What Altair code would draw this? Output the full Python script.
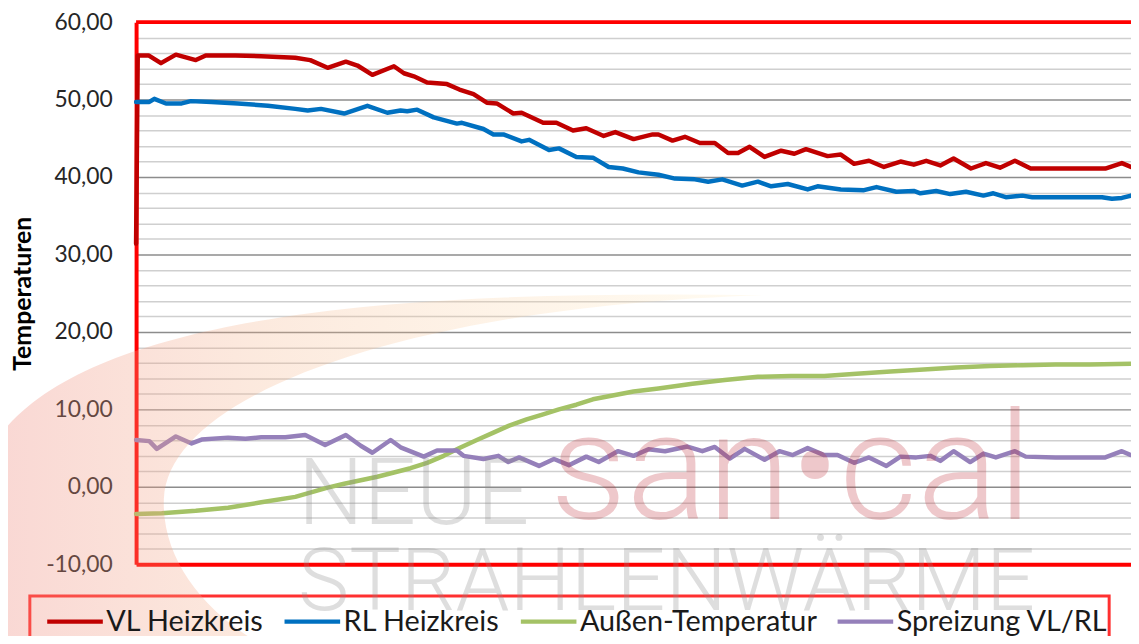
import base64
import altair as alt
import pandas as pd

vl_x = [0, 0.2, 1.5, 3.0, 4.8, 7.2, 8.4, 12.0, 15.1, 19.2, 21.0, 23.1, 25.3, 26.7, 28.5, 31.1, 32.3,
        33.5, 35.1, 37.5, 39.0, 40.7, 42.3, 43.5, 45.5, 46.5, 49.1, 50.7, 52.7, 54.3, 56.4, 57.8, 60.0,
        62.3, 63.0, 64.7, 66.2, 68.0, 69.8, 71.4, 72.6, 74.0, 75.8, 77.8, 79.4, 80.8, 83.4, 85.0, 86.6,
        88.4, 90.2, 92.2, 93.8, 95.3, 97.0, 98.6, 100.7, 102.5, 104.2, 106.0, 107.9, 116.9, 118.9, 120]
vl_y = [31.4, 55.7, 55.7, 54.7, 55.8, 55.1, 55.7, 55.7, 55.6, 55.4, 55.1, 54.1, 54.9, 54.4, 53.2, 54.3, 53.4,
        53.0, 52.2, 52.0, 51.3, 50.7, 49.6, 49.5, 48.2, 48.3, 47.0, 47.0, 46.0, 46.3, 45.3, 45.8, 44.9,
        45.5, 45.5, 44.7, 45.2, 44.4, 44.4, 43.1, 43.1, 43.9, 42.6, 43.4, 43.0, 43.6, 42.7, 42.9, 41.7,
        42.1, 41.3, 42.0, 41.6, 42.1, 41.5, 42.4, 41.1, 41.8, 41.2, 42.1, 41.1, 41.1, 41.8, 41.3]

rl_x = [0, 1.6, 2.2, 3.6, 5.5, 6.6, 9.1, 12.3, 15.9, 19.2, 20.7, 22.3, 25.1, 27.9, 30.3, 31.9, 32.7, 33.9,
        35.9, 38.7, 39.3, 41.9, 43.1, 44.3, 46.5, 47.4, 49.8, 51.0, 53.1, 55.1, 57.0, 58.7, 60.6, 63.0,
        65.0, 67.4, 69.0, 70.7, 73.1, 75.0, 76.6, 78.6, 81.0, 82.2, 85.0, 87.8, 89.3, 91.7, 93.8, 94.6,
        96.5, 98.2, 100.1, 102.2, 103.4, 104.9, 106.9, 108.1, 116.5, 117.7, 118.9, 120]
rl_y = [49.7, 49.7, 50.1, 49.5, 49.5, 49.8, 49.7, 49.5, 49.2, 48.8, 48.6, 48.8, 48.2, 49.2, 48.3, 48.6, 48.5, 48.7,
        47.7, 46.9, 47.0, 46.2, 45.5, 45.5, 44.6, 44.8, 43.5, 43.7, 42.6, 42.5, 41.3, 41.1, 40.6, 40.3,
        39.8, 39.7, 39.4, 39.7, 38.9, 39.4, 38.8, 39.1, 38.4, 38.8, 38.4, 38.3, 38.7, 38.1, 38.2, 37.9,
        38.2, 37.8, 38.1, 37.6, 37.9, 37.4, 37.6, 37.4, 37.4, 37.2, 37.3, 37.6]

out_x = [0, 3.1, 7.2, 11.1, 15.1, 19.2, 23.1, 25.1, 29.1, 33.1, 35.1, 37.1, 39.0, 41.1, 43.1, 45.0, 47.1,
         49.1, 51.0, 53.1, 55.1, 57.0, 60.0, 63.0, 67.1, 71.0, 75.0, 79.0, 83.0, 86.9, 91.0, 95.0, 98.9,
         103.0, 106.9, 110.9, 115.0, 120]
out_y = [-3.5, -3.4, -3.1, -2.7, -2.0, -1.3, -0.1, 0.4, 1.3, 2.4, 3.1, 4.0, 5.0, 6.05, 7.0, 7.9, 8.7,
         9.35, 10.0, 10.6, 11.3, 11.7, 12.3, 12.7, 13.3, 13.8, 14.2, 14.3, 14.3, 14.6, 14.9, 15.15, 15.4,
         15.6, 15.7, 15.8, 15.8, 15.9]

spr_x = [0, 1.6, 2.5, 4.8, 6.7, 7.9, 11.1, 13.2, 15.1, 18.0, 20.4, 22.8, 25.3, 27.1, 28.5, 30.7, 31.9, 34.7,
         36.3, 38.7, 39.5, 41.9, 43.7, 44.9, 46.2, 48.6, 50.4, 52.2, 54.3, 55.8, 58.1, 60.0, 61.8, 63.8,
         66.5, 68.3, 69.8, 71.6, 73.4, 75.8, 77.6, 79.2, 81.0, 83.0, 84.6, 86.6, 88.4, 90.5, 92.2, 94.1,
         95.8, 97.0, 98.6, 100.6, 102.2, 103.7, 106.0, 107.3, 110.9, 116.9, 118.9, 120]
spr_y = [6.05, 5.9, 4.9, 6.5, 5.6, 6.1, 6.35, 6.2, 6.4, 6.4, 6.7, 5.4, 6.7, 5.3, 4.4, 6.05, 5.1, 3.9,
         4.7, 4.7, 4.0, 3.6, 4.0, 3.2, 3.8, 2.7, 3.6, 2.8, 3.9, 3.2, 4.6, 4.0, 4.85, 4.6,
         5.2, 4.6, 5.15, 3.65, 4.9, 3.5, 4.6, 4.1, 5.0, 4.1, 4.1, 3.1, 3.8, 2.7, 3.9, 3.8,
         4.0, 3.35, 4.6, 3.2, 4.3, 3.8, 4.6, 3.9, 3.8, 3.8, 4.6, 4.1]

series_names = ["VL Heizkreis", "RL Heizkreis", "Außen-Temperatur", "Spreizung VL/RL"]
series_colors = ["#C00000", "#0070C0", "#A4C266", "#9580BA"]
y_ticks = list(range(-10, 61, 2))

frames = []
for name, xs, ys in zip(series_names, [vl_x, rl_x, out_x, spr_x], [vl_y, rl_y, out_y, spr_y]):
    frames.append(pd.DataFrame({"t": xs, "wert": ys, "reihe": name}))
df = pd.concat(frames, ignore_index=True)

W, H = 1002, 546
PL, PT = 129, 12  # padding: plot starts at screen (137, 20)

y_axis = alt.Axis(
    values=y_ticks,
    tickCount=len(y_ticks) + 4,
    labelExpr="datum.value % 10 === 0 ? datum.value + ',00' : ''",
    labelOverlap=False,
    gridColor={"condition": {"test": "datum.value % 10 === 0", "value": "#8C8C8C"}, "value": "#CFCFCF"},
    gridWidth=1.5,
    ticks=False,
    domainColor="#FF0000",
    domainWidth=4,
    labelFont="Lato",
    labelFontSize=23,
    labelColor="#262626",
    labelPadding=24,
    title="Temperaturen",
    titleFont="Lato",
    titleFontSize=25,
    titleFontWeight="bold",
    titleColor="#000000",
    titleX=-114,
    titleY=H / 2,
    titleAngle=270,
    titleAlign="center",
    titleBaseline="middle",
)
x_axis = alt.Axis(labels=False, ticks=False, grid=False, domainColor="#FF0000", domainWidth=4, title=None)

lines = alt.Chart(df).mark_line(strokeWidth=4.5, strokeJoin="round", strokeCap="round").encode(
    x=alt.X("t:Q", scale=alt.Scale(domain=[0, 120], nice=False, zero=False), axis=x_axis),
    y=alt.Y("wert:Q", scale=alt.Scale(domain=[-10, 60], nice=False), axis=y_axis),
    color=alt.Color(
        "reihe:N",
        scale=alt.Scale(domain=series_names, range=series_colors),
        sort=series_names,
        legend=alt.Legend(
            title=None,
            orient="none",
            legendX=-78,
            legendY=587,
            direction="horizontal",
            symbolType="M-2,0H2",
            symbolSize=784,
            symbolStrokeWidth=4.5,
            labelFont="Lato",
            labelFontSize=29,
            labelColor="#1A1A1A",
            labelLimit=400,
            labelOffset=15,
            columnPadding=11,
            padding=0,
        ),
    ),
    order="t:Q",
)

top_border = alt.Chart(pd.DataFrame({"v": [60]})).mark_rule(color="#FF0000", strokeWidth=4).encode(
    y=alt.Y("v:Q")
)

legend_box = alt.Chart(pd.DataFrame({"k": [0]})).mark_rect(
    fill=None, fillOpacity=0, stroke="#FF3030", strokeWidth=3
).encode(x=alt.value(-107), x2=alt.value(980), y=alt.value(578), y2=alt.value(640))

# ---- watermark (decoration) ----
svg = (
    '<svg xmlns="http://www.w3.org/2000/svg" width="1139" height="644" viewBox="0 0 1139 644">'
    '<defs><linearGradient id="g" x1="0" y1="0" x2="1" y2="0">'
    '<stop offset="0" stop-color="#EE8478" stop-opacity="0.32"/>'
    '<stop offset="0.35" stop-color="#F5B48A" stop-opacity="0.28"/>'
    '<stop offset="1" stop-color="#FFE2A0" stop-opacity="0.15"/>'
    '</linearGradient></defs>'
    '<path d="M0,436 C100,305 450,290 770,295 C430,305 170,390 165,500 C162,570 220,630 290,660 L0,660 Z" fill="url(#g)"/>'
    '</svg>'
)
url = "data:image/svg+xml;base64," + base64.b64encode(svg.encode("utf-8")).decode("ascii")
crescent = alt.Chart(pd.DataFrame({"u": [url]})).mark_image(
    width=1139, height=644, align="left", baseline="top", aspect=False
).encode(url="u:N", x=alt.value(-PL - 8), y=alt.value(-PT - 8))

wm_neue = alt.Chart(pd.DataFrame({"s": ["NEUE"]})).mark_text(
    font="Roboto", fontWeight=300, fontSize=93, color="#8C8C8C", opacity=0.28, align="left", baseline="alphabetic"
).encode(text="s:N", x=alt.value(163), y=alt.value(505))
wm_sancal = alt.Chart(pd.DataFrame({"s": ["san•cal"]})).mark_text(
    font="Roboto", fontWeight=300, fontSize=152, color="#C0303A", opacity=0.26, align="left", baseline="alphabetic"
).encode(text="s:N", x=alt.value(417), y=alt.value(500))
wm_strahlen = alt.Chart(pd.DataFrame({"s": ["STRAHLENWÄRME"]})).mark_text(
    font="Roboto", fontWeight=300, fontSize=87, color="#8C8C8C", opacity=0.28, align="left", baseline="alphabetic"
).encode(text="s:N", x=alt.value(163), y=alt.value(592))

chart = alt.layer(lines, top_border, legend_box, crescent, wm_neue, wm_sancal, wm_strahlen).properties(
    width=W,
    height=H,
    autosize="none",
    padding={"left": PL, "top": PT, "right": 0, "bottom": 70},
    background="#FFFFFF",
).configure_view(stroke=None)

chart.save("out.html", embed_options={"renderer": "svg", "actions": False})
